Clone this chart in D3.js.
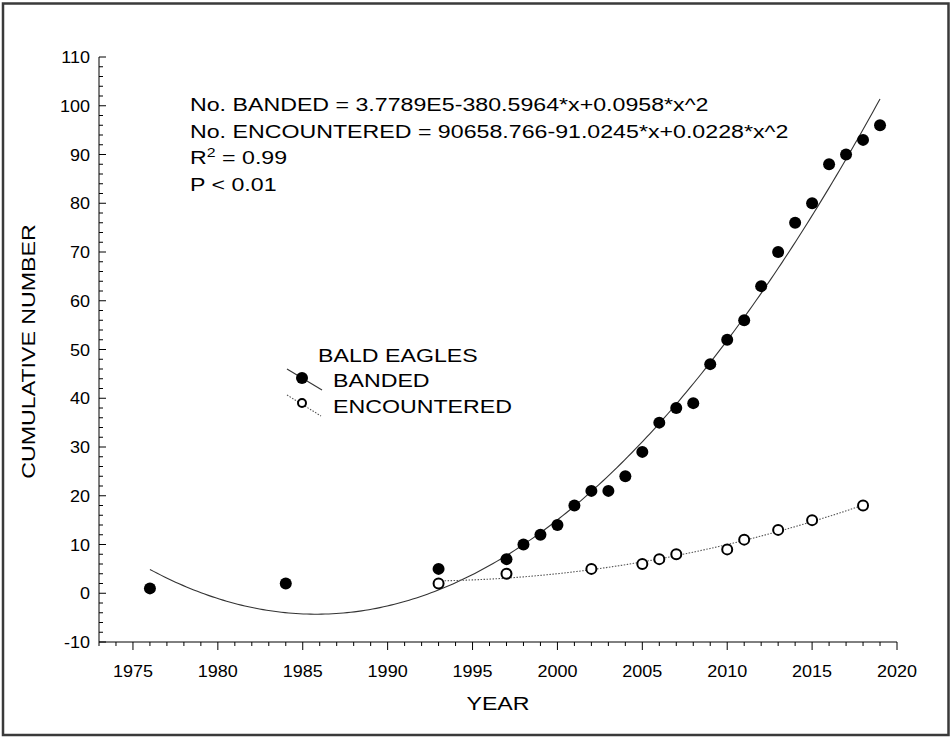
<!DOCTYPE html>
<html>
<head>
<meta charset="utf-8">
<script src="https://cdn.jsdelivr.net/npm/d3@7/dist/d3.min.js"></script>
<style>
  html, body { margin: 0; padding: 0; background: #fff; }
  svg { display: block; font-family: Arial, "Liberation Sans", sans-serif; }
</style>
</head>
<body>
<svg id="chart" width="952" height="737"></svg>
<script>
// Cumulative bald eagles banded and encountered, by year
const bandedYears  = [1976, 1984, 1993, 1997, 1998, 1999, 2000, 2001, 2002, 2003, 2004, 2005, 2006,
                      2007, 2008, 2009, 2010, 2011, 2012, 2013, 2014, 2015, 2016, 2017, 2018, 2019];
const bandedCounts = [1, 2, 5, 7, 10, 12, 14, 18, 21, 21, 24, 29, 35,
                      38, 39, 47, 52, 56, 63, 70, 76, 80, 88, 90, 93, 96];
const encounteredYears  = [1993, 1997, 2002, 2005, 2006, 2007, 2010, 2011, 2013, 2015, 2018];
const encounteredCounts = [2, 4, 5, 6, 7, 8, 9, 11, 13, 15, 18];

const xTickValues = [1975, 1980, 1985, 1990, 1995, 2000, 2005, 2010, 2015, 2020];
const yTickValues = [-10, 0, 10, 20, 30, 40, 50, 60, 70, 80, 90, 100, 110];

const equationLines = [
  "No. BANDED = 3.7789E5-380.5964*x+0.0958*x^2",
  "No. ENCOUNTERED = 90658.766-91.0245*x+0.0228*x^2"
];

const svg = d3.select("#chart");

// wide-set lettering: text placed in a group stretched horizontally
function wideText(parent, x, y, str, size, sx, anchor, rotate) {
  const g = parent.append("g")
    .attr("transform", `translate(${x},${y})` + (rotate ? ` rotate(${rotate})` : "") + ` scale(${sx},1)`);
  return g.append("text").attr("font-size", size)
    .attr("text-anchor", anchor || "start").text(str);
}

// outer frame
svg.append("rect")
  .attr("x", 3).attr("y", 3.5).attr("width", 945.5).attr("height", 731.5)
  .attr("fill", "none").attr("stroke", "#3a3a3a").attr("stroke-width", 2.5);

const plot = { left: 99, right: 897, top: 57, bottom: 642 };

const x = d3.scaleLinear().domain([1973, 2020]).range([plot.left, plot.right]);
const y = d3.scaleLinear().domain([-10, 110]).range([plot.bottom, plot.top]);

// least-squares quadratic fit (centred on the mean year for stability)
function quadFit(xs, ys) {
  const m = d3.mean(xs);
  let s = [0, 0, 0, 0, 0], t = [0, 0, 0];
  xs.forEach((xv, i) => {
    const u = xv - m;
    for (let k = 0; k <= 4; k++) s[k] += Math.pow(u, k);
    for (let k = 0; k <= 2; k++) t[k] += ys[i] * Math.pow(u, k);
  });
  const A = [[s[0], s[1], s[2]], [s[1], s[2], s[3]], [s[2], s[3], s[4]]];
  const det = M => M[0][0]*(M[1][1]*M[2][2]-M[1][2]*M[2][1])
                 - M[0][1]*(M[1][0]*M[2][2]-M[1][2]*M[2][0])
                 + M[0][2]*(M[1][0]*M[2][1]-M[1][1]*M[2][0]);
  const D = det(A);
  const coef = [0, 1, 2].map(c => {
    const B = A.map((row, r) => row.map((v, j) => j === c ? t[r] : v));
    return det(B) / D;
  });
  return xv => { const u = xv - m; return coef[0] + coef[1]*u + coef[2]*u*u; };
}

const bandedFit = quadFit(bandedYears, bandedCounts);
const encounteredFit = quadFit(encounteredYears, encounteredCounts);

function curvePoints(fit, x0, x1) {
  const pts = [];
  for (let i = 0; i <= 200; i++) {
    const xv = x0 + (x1 - x0) * i / 200;
    pts.push([xv, fit(xv)]);
  }
  return pts;
}

const line = d3.line().x(d => x(d[0])).y(d => y(d[1]));

// x axis: ticks every year, pointing down, labelled every 5 years
const xAxis = svg.append("g").attr("transform", `translate(0,${plot.bottom})`);
xAxis.append("line").attr("x1", plot.left).attr("x2", plot.right)
  .attr("stroke", "#000").attr("stroke-width", 1);
xAxis.selectAll(".minor").data(d3.range(1973, 2021))
  .join("line").attr("x1", d => x(d)).attr("x2", d => x(d))
  .attr("y1", 0).attr("y2", d => d % 5 === 0 ? 8 : 4)
  .attr("stroke", "#000").attr("stroke-width", 1);
xTickValues.forEach(d => wideText(xAxis, x(d), 35, d, 17, 1.06, "middle"));

// y axis: ticks every 2, pointing into the plot, labelled every 10
const yAxis = svg.append("g");
yAxis.append("line").attr("x1", plot.left).attr("x2", plot.left)
  .attr("y1", plot.top).attr("y2", plot.bottom)
  .attr("stroke", "#000").attr("stroke-width", 1);
yAxis.selectAll(".minor").data(d3.range(-10, 111, 2))
  .join("line").attr("x1", plot.left).attr("x2", d => plot.left + (d % 10 === 0 ? 7 : 4))
  .attr("y1", d => y(d)).attr("y2", d => y(d))
  .attr("stroke", "#000").attr("stroke-width", 1);
yTickValues.forEach(d => wideText(yAxis, plot.left - 9, y(d) + 6, d, 17, 1.06, "end"));

// axis titles
wideText(svg, (plot.left + plot.right) / 2, 710, "YEAR", 19, 1.22, "middle");
wideText(svg, 35, (plot.top + plot.bottom) / 2 + 2, "CUMULATIVE NUMBER", 19, 1.22, "middle", -90);

// fitted curves
svg.append("path")
  .attr("d", line(curvePoints(bandedFit, d3.min(bandedYears), d3.max(bandedYears))))
  .attr("fill", "none").attr("stroke", "#333").attr("stroke-width", 1.1);
svg.append("path")
  .attr("d", line(curvePoints(encounteredFit, d3.min(encounteredYears), d3.max(encounteredYears))))
  .attr("fill", "none").attr("stroke", "#555").attr("stroke-width", 1.1)
  .attr("stroke-dasharray", "1.5,1.5");

// data markers
svg.append("g").selectAll("circle")
  .data(bandedYears.map((yr, i) => [yr, bandedCounts[i]]))
  .join("circle").attr("cx", d => x(d[0])).attr("cy", d => y(d[1]))
  .attr("r", 6).attr("fill", "#000");
svg.append("g").selectAll("circle")
  .data(encounteredYears.map((yr, i) => [yr, encounteredCounts[i]]))
  .join("circle").attr("cx", d => x(d[0])).attr("cy", d => y(d[1]))
  .attr("r", 5).attr("fill", "#fff").attr("stroke", "#000").attr("stroke-width", 2);

// regression statistics
equationLines.forEach((t, i) => wideText(svg, 190, 111 + i * 26.5, t, 19, 1.22));
const r2 = wideText(svg, 190, 164, "", 19, 1.22);
r2.append("tspan").text("R");
r2.append("tspan").attr("dy", -7).attr("font-size", 13).text("2");
r2.append("tspan").attr("dy", 7).text(" = 0.99");
wideText(svg, 190, 190.5, "P < 0.01", 19, 1.22);

// legend
const lg = svg.append("g");
wideText(lg, 318, 362, "BALD EAGLES", 19, 1.22);
lg.append("line").attr("x1", 287).attr("y1", 369).attr("x2", 322).attr("y2", 390)
  .attr("stroke", "#333").attr("stroke-width", 1.1);
lg.append("circle").attr("cx", 302).attr("cy", 378).attr("r", 6).attr("fill", "#000");
wideText(lg, 333, 387, "BANDED", 19, 1.22);
lg.append("line").attr("x1", 287).attr("y1", 395).attr("x2", 321).attr("y2", 416)
  .attr("stroke", "#555").attr("stroke-width", 1.1).attr("stroke-dasharray", "1.5,1.5");
lg.append("circle").attr("cx", 302).attr("cy", 403).attr("r", 4).attr("fill", "#fff")
  .attr("stroke", "#000").attr("stroke-width", 2);
wideText(lg, 333, 413, "ENCOUNTERED", 19, 1.22);
</script>
</body>
</html>
